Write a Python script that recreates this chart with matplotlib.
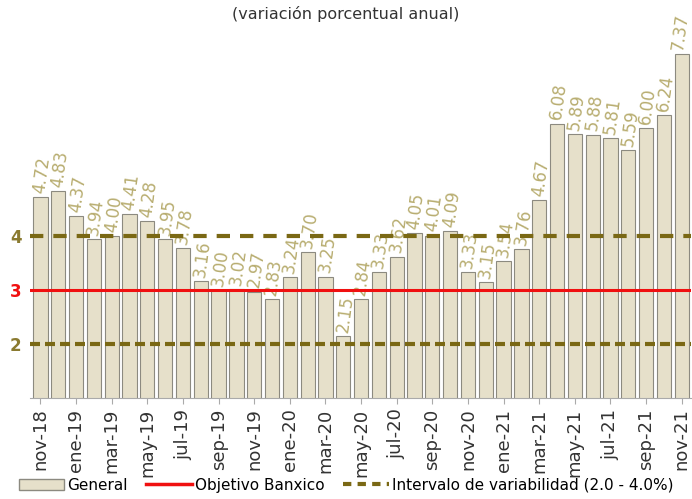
import matplotlib.pyplot as plt
from matplotlib.lines import Line2D
from matplotlib.patches import Patch

meses = ['nov-18', 'dic-18', 'ene-19', 'feb-19', 'mar-19', 'abr-19', 'may-19', 'jun-19',
         'jul-19', 'ago-19', 'sep-19', 'oct-19', 'nov-19', 'dic-19', 'ene-20', 'feb-20',
         'mar-20', 'abr-20', 'may-20', 'jun-20', 'jul-20', 'ago-20', 'sep-20', 'oct-20',
         'nov-20', 'dic-20', 'ene-21', 'feb-21', 'mar-21', 'abr-21', 'may-21', 'jun-21',
         'jul-21', 'ago-21', 'sep-21', 'oct-21', 'nov-21']
general = [4.72, 4.83, 4.37, 3.94, 4.00, 4.41, 4.28, 3.95, 3.78, 3.16, 3.00, 3.02, 2.97,
           2.83, 3.24, 3.70, 3.25, 2.15, 2.84, 3.33, 3.62, 4.05, 4.01, 4.09, 3.33, 3.15,
           3.54, 3.76, 4.67, 6.08, 5.89, 5.88, 5.81, 5.59, 6.00, 6.24, 7.37]
objetivo = 3
intervalo = [2, 4]

fig = plt.figure(figsize=(6.92, 4.99), dpi=100)
ax = fig.add_axes([0.043, 0.202, 0.955, 0.758])

x = list(range(len(meses)))
ax.bar(x, general, bottom=0, width=0.8, color='#e6e0ca', edgecolor='#8c8a80', linewidth=0.8)
for i, v in enumerate(general):
    dx = 0.1 if i < len(general) - 1 else -0.1
    ax.text(i + dx, v + 0.05, f'{v:.2f}', rotation=82, ha='center', va='bottom',
            color='#b8ad70', fontsize=12)

ax.axhline(objetivo, color='#f01010', lw=2.2, zorder=3)
ax.axhline(intervalo[1], color='#7a6814', lw=3, dashes=(3.2, 2.4), zorder=3)
ax.axhline(intervalo[0], color='#7a6814', lw=3, dashes=(2.4, 1.2), zorder=3)

ax.set_ylim(1, 8)
ax.set_xlim(-0.6, 36.5)
ax.set_yticks([2, 3, 4])
ax.set_yticklabels(['2', '3', '4'], fontsize=12, fontweight='bold')
cols = ['#8a7a30', '#f01010', '#8a7a30']
for t, c in zip(ax.get_yticklabels(), cols):
    t.set_color(c)
ax.tick_params(axis='y', length=0, pad=6)
ax.set_xticks(x[::2])
ax.set_xticklabels(meses[::2], rotation=90, fontsize=13, color='#333333')
ax.tick_params(axis='x', length=4, color='#aaaaaa')
for s in ['top', 'right', 'left']:
    ax.spines[s].set_visible(False)
ax.spines['bottom'].set_color('#aaaaaa')

fig.text(0.5, 0.972, '(variación porcentual anual)', ha='center', va='center',
         fontsize=11.5, color='#333333')

handles = [Patch(facecolor='#e6e0ca', edgecolor='#8c8a80'),
           Line2D([], [], color='#f01010', lw=2.5),
           Line2D([], [], color='#7a6814', lw=3, dashes=(2, 1.5))]
fig.legend(handles, ['General', 'Objetivo Banxico', 'Intervalo de variabilidad (2.0 - 4.0%)'],
           loc='lower center', bbox_to_anchor=(0.5, -0.015), ncol=3, frameon=False,
           fontsize=11, handlelength=3, handletextpad=0.2, columnspacing=1.2)

fig.savefig('out.png', dpi=100)
